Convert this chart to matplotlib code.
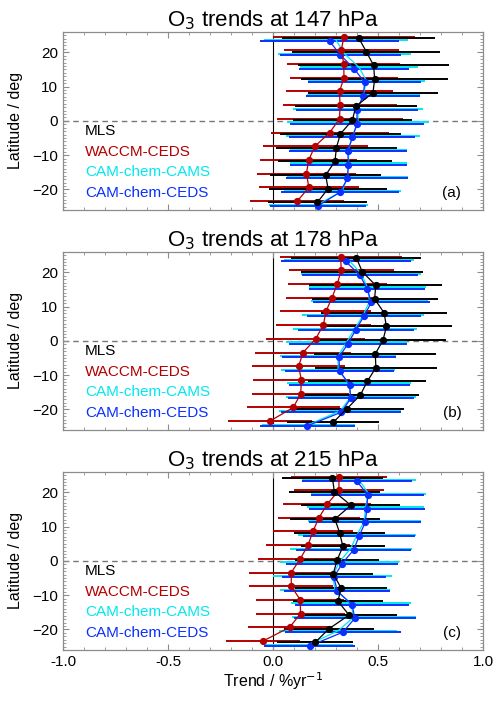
#!/usr/bin/env python3
"""Ozone trend profiles vs latitude at three pressure levels."""

import numpy as np
import matplotlib.pyplot as plt
from matplotlib.ticker import MultipleLocator

plt.rcParams['font.family'] = ['Liberation Sans', 'DejaVu Sans']

lat = [24, 20, 16, 12, 8, 4, 0, -4, -8, -12, -16, -20, -24]

# 147 hPa
mls_147 = [0.408, 0.444, 0.479, 0.484, 0.476, 0.394, 0.378, 0.321, 0.302, 0.295, 0.251, 0.262, 0.211]
mls_147_err = [0.365, 0.353, 0.36, 0.35, 0.31, 0.29, 0.285, 0.29, 0.29, 0.27, 0.265, 0.28, 0.235]
waccm_147 = [0.338, 0.325, 0.337, 0.338, 0.317, 0.319, 0.317, 0.27, 0.2, 0.17, 0.159, 0.171, 0.116]
waccm_147_err = [0.34, 0.275, 0.27, 0.255, 0.256, 0.27, 0.3, 0.28, 0.25, 0.23, 0.235, 0.24, 0.224]
cams_147 = [0.30, 0.34, 0.41, 0.445, 0.43, 0.405, 0.405, 0.38, 0.36, 0.36, 0.355, 0.33, 0.215]
cams_147_err = [0.341, 0.317, 0.28, 0.28, 0.27, 0.31, 0.337, 0.32, 0.28, 0.28, 0.29, 0.28, 0.235]
ceds_147 = [0.27, 0.321, 0.386, 0.437, 0.429, 0.40, 0.40, 0.378, 0.356, 0.359, 0.354, 0.32, 0.214]
ceds_147_err = [0.33, 0.29, 0.26, 0.27, 0.27, 0.29, 0.32, 0.30, 0.28, 0.28, 0.29, 0.28, 0.227]

# 178 hPa
mls_178 = [0.397, 0.425, 0.489, 0.484, 0.529, 0.54, 0.524, 0.487, 0.49, 0.449, 0.416, 0.352, 0.286]
mls_178_err = [0.31, 0.29, 0.317, 0.30, 0.30, 0.31, 0.30, 0.29, 0.29, 0.28, 0.28, 0.27, 0.22]
waccm_178 = [0.322, 0.325, 0.306, 0.281, 0.252, 0.24, 0.203, 0.143, 0.122, 0.135, 0.132, 0.097, -0.015]
waccm_178_err = [0.29, 0.25, 0.235, 0.22, 0.217, 0.225, 0.237, 0.23, 0.22, 0.23, 0.23, 0.22, 0.2]
cams_178 = [0.36, 0.42, 0.45, 0.46, 0.43, 0.39, 0.35, 0.31, 0.31, 0.36, 0.37, 0.32, 0.17]
cams_178_err = [0.31, 0.285, 0.28, 0.28, 0.29, 0.295, 0.29, 0.275, 0.27, 0.295, 0.31, 0.29, 0.222]
ceds_178 = [0.346, 0.413, 0.449, 0.468, 0.433, 0.394, 0.357, 0.314, 0.317, 0.365, 0.37, 0.325, 0.163]
ceds_178_err = [0.31, 0.276, 0.276, 0.278, 0.27, 0.276, 0.28, 0.27, 0.26, 0.287, 0.30, 0.285, 0.226]

# 215 hPa
mls_215 = [0.283, 0.292, 0.371, 0.295, 0.317, 0.333, 0.305, 0.287, 0.323, 0.31, 0.362, 0.267, 0.2]
mls_215_err = [0.24, 0.216, 0.236, 0.216, 0.216, 0.2, 0.2, 0.19, 0.218, 0.214, 0.23, 0.216, 0.183]
waccm_215 = [0.314, 0.314, 0.259, 0.219, 0.19, 0.167, 0.13, 0.087, 0.087, 0.13, 0.131, 0.079, -0.048]
waccm_215_err = [0.23, 0.215, 0.21, 0.197, 0.19, 0.2, 0.2, 0.2, 0.2, 0.21, 0.21, 0.2, 0.178]
cams_215 = [0.41, 0.455, 0.44, 0.435, 0.40, 0.37, 0.315, 0.285, 0.295, 0.37, 0.385, 0.31, 0.17]
cams_215_err = [0.27, 0.273, 0.28, 0.27, 0.28, 0.29, 0.283, 0.283, 0.262, 0.286, 0.295, 0.28, 0.21]
ceds_215 = [0.40, 0.451, 0.447, 0.439, 0.41, 0.384, 0.329, 0.29, 0.306, 0.377, 0.389, 0.333, 0.175]
ceds_215_err = [0.264, 0.27, 0.275, 0.267, 0.265, 0.274, 0.265, 0.246, 0.252, 0.272, 0.29, 0.278, 0.216]

names = ['MLS', 'WACCM-CEDS', 'CAM-chem-CAMS', 'CAM-chem-CEDS']
colors = ['black', '#B40000', '#00E8F0', '#0A30FF']
offsets = [0.2, 0.6, -0.4, -0.8]  # small latitude shift so bars don't overlap

panels = [
    ('147', '(a)', [(mls_147, mls_147_err), (waccm_147, waccm_147_err),
                    (cams_147, cams_147_err), (ceds_147, ceds_147_err)]),
    ('178', '(b)', [(mls_178, mls_178_err), (waccm_178, waccm_178_err),
                    (cams_178, cams_178_err), (ceds_178, ceds_178_err)]),
    ('215', '(c)', [(mls_215, mls_215_err), (waccm_215, waccm_215_err),
                    (cams_215, cams_215_err), (ceds_215, ceds_215_err)]),
]

fig = plt.figure(figsize=(5.0, 7.03), dpi=100)
bottoms = [0.7013, 0.3883, 0.0754]
frame = '#8c8c8c'

for (level, tag, series), bot in zip(panels, bottoms):
    ax = fig.add_axes([0.126, bot, 0.84, 0.2536])
    y0 = np.array(lat, dtype=float)

    # error bars first: red, black, cyan, blue
    for i in [1, 0, 2, 3]:
        val, err = np.array(series[i][0]), np.array(series[i][1])
        ax.hlines(y0 + offsets[i], val - err, val + err, color=colors[i], lw=1.4, zorder=2)

    # lines and markers on top
    ax.plot(series[2][0], y0 + offsets[2], color=colors[2], lw=0.9, zorder=3)
    for i in [3, 1, 0]:
        ax.plot(series[i][0], y0 + offsets[i], color=colors[i], lw=0.9,
                marker='o', ms=4.2, zorder=4)

    ax.axvline(0, color='black', lw=0.8, zorder=1)
    ax.axhline(0, color='#777777', lw=1.0, ls=(0, (4, 3)), zorder=1)

    ax.set_xlim(-1, 1)
    ax.set_ylim(-26, 26)
    ax.xaxis.set_major_locator(MultipleLocator(0.5))
    ax.xaxis.set_minor_locator(MultipleLocator(0.1))
    ax.yaxis.set_major_locator(MultipleLocator(10))
    ax.yaxis.set_minor_locator(MultipleLocator(1))
    ax.tick_params(which='both', direction='in', top=True, right=True,
                   color=frame, labelsize=11)
    ax.tick_params(which='major', length=4)
    ax.tick_params(which='minor', length=2)
    for sp in ax.spines.values():
        sp.set_color(frame)
        sp.set_linewidth(0.9)

    ax.set_ylabel('Latitude / deg', fontsize=11.5, labelpad=7)
    ax.set_title('O$_3$ trends at %s hPa' % level, fontsize=16, pad=3)

    if tag == '(c)':
        ax.set_xlabel('Trend / %yr$^{-1}$', fontsize=11.5, labelpad=1)
        ax.xaxis.set_major_formatter(plt.FuncFormatter(lambda v, p: '%.1f' % v))
    else:
        ax.set_xticklabels([])

    # legend as coloured text
    for k, ypos in enumerate([0.443, 0.325, 0.213, 0.095]):
        ax.text(0.052, ypos, names[k], color=colors[k], fontsize=11,
                transform=ax.transAxes, va='center', ha='left')
    ax.text(0.926, 0.095, tag, fontsize=11, transform=ax.transAxes,
            va='center', ha='center')

plt.savefig('out.png', dpi=100)
